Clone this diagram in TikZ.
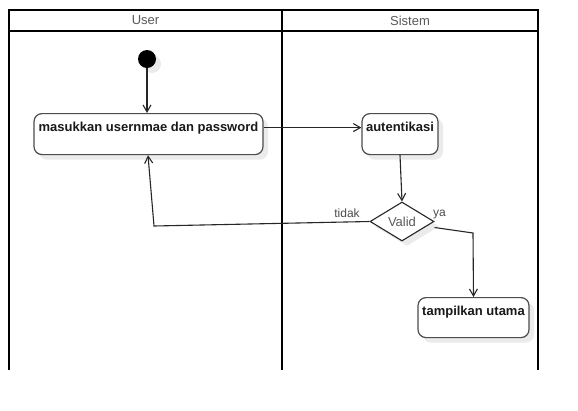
\documentclass[tikz,border=0pt]{standalone}
\usepackage{fontspec}
\setmainfont{Liberation Sans}
\usetikzlibrary{arrows.meta,shapes.geometric,shadows}
\begin{document}
\begin{tikzpicture}[x=1pt,y=-1pt,
  lane/.style={line width=2pt, draw=black},
  lanehead/.style={font=\fontsize{13}{15}\selectfont, text=black!65},
  shd/.style={drop shadow={shadow xshift=5pt, shadow yshift=-5pt, fill=black!8, opacity=1}},
  act/.style={draw=black!70, line width=1.2pt, rounded corners=8pt, fill=white, shd,
    font=\bfseries\fontsize{13}{15}\selectfont, text=black!90, anchor=north,
    inner xsep=2pt, inner ysep=4pt, text height=14pt, text depth=19pt},
  flow/.style={draw=black!85, line width=1.1pt, -{Straight Barb[length=7pt,width=8pt]}},
  lbl/.style={font=\fontsize{12}{14}\selectfont, text=black!70, inner sep=1pt}]
\fill[white] (0,0) rectangle (578,410);
\useasboundingbox (0,0) rectangle (578,410);
% swimlanes
\draw[lane] (9,370) -- (9,10) -- (538,10) -- (538,370);
\draw[lane] (9,31) -- (538,31);
\draw[lane] (282,10) -- (282,370);
\node[lanehead] (hUser) at (145.5,20.5) {User};
\node[lanehead] (hSistem) at (410,20.5) {Sistem};
% nodes
\node[circle, fill=black, minimum size=18pt, inner sep=0pt, shd] (start) at (147,59) {};
\node[act, minimum width=229pt] (n1) at (148.5,113) {masukkan usernmae dan password};
\node[act, minimum width=76pt] (n2) at (400,113) {autentikasi};
\node[act, minimum width=111pt, text depth=18pt] (n3) at (473.5,297) {tampilkan utama};
\node[diamond, draw=black!85, line width=1.1pt, fill=white, shd, minimum width=64pt, minimum height=39pt, inner sep=0pt,
  font=\fontsize{13}{15}\selectfont, text=black!65] (d) at (402,221.5) {Valid};
% connectors
\coordinate (c1) at (154,226);
\coordinate (c2) at (473,233);
\draw[flow] (start.south) -- (start.south |- n1.north);
\draw[flow] ([yshift=6.5pt]n1.east) -- ([yshift=6.5pt]n2.west);
\draw[flow] (n2.south) -- (d.north);
\draw[flow] (d.west) -- (c1) -- ([xshift=-0.5pt]n1.south);
\draw[flow] ([yshift=-6pt]d.east) -- (c2) -- (n3.north);
\node[lbl] (ltidak) at (347,213) {tidak};
\node[lbl] (lya) at (439.5,215) {ya};
\end{tikzpicture}
\end{document}
